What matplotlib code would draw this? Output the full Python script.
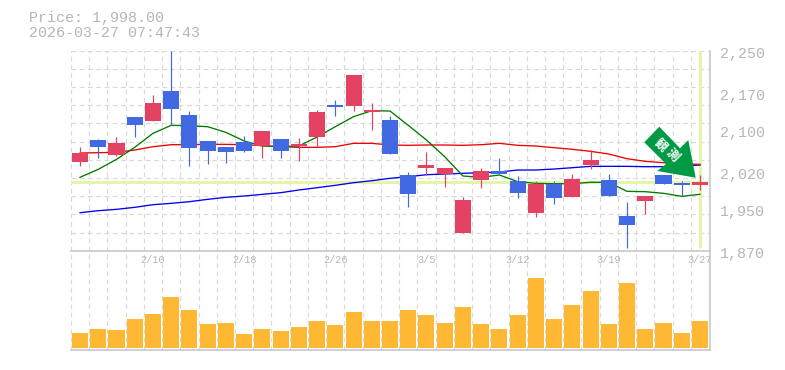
import matplotlib
matplotlib.use("Agg")
import matplotlib.pyplot as plt
from matplotlib.patches import Polygon

W, H = 785, 370

opens  = [2038.5,2080,2052,2124,2116,2173,2128,2078,2067,2076.5,2069,2082,2069,2086,2147,2145,2133.5,2118,2014,2027,2016,1904,2004,2021,2002.4,1942,1997,1972,2033,2004,1936,1964,2014,1998.6,1995]
closes = [2055.6,2067,2075,2109,2151,2139,2065,2059,2057.5,2059.4,2097,2059.4,2072.7,2133.5,2143,2204,2137.3,2054,1978,2033,2027,1966,2021,2016,1979.6,1997,1970,2006,2042,1974,1919,1974,1997,1994.8,2000.5]
highs  = [2067,2082,2086,2124,2166,2250,2135.4,2078,2067,2088,2097,2082,2084,2137,2156,2204,2150.6,2126,2019.5,2057.5,2027,1972,2027,2046,2012,2002.4,2002.4,2015.7,2061,2015.7,1962.5,1974,2014,2002.4,2013.8]
lows   = [2031,2046,2050,2086,2116,2109,2031,2035,2036.6,2057.5,2046,2046,2040.4,2067,2126,2135.4,2099,2054,1953,2013.8,1991,1904,1989,2016,1970,1934,1958.7,1972,2025,1974,1875,1939.7,1997,1974,1985.3]

ma_green = [2009.4,2024.6,2043.6,2066.4,2093,2108.2,2107.5,2105.6,2094.9,2078.4,2068.9,2068.3,2068.9,2086,2105.6,2124.6,2136,2135.4,2108.2,2080.3,2048.6,2011.9,2009.4,2013.8,2001.2,1998,1997.3,1997.3,1999.9,1999.9,1982.8,1982.1,1979,1973.3,1977.1]
ma_red   = [2055.6,2056.2,2056.9,2061.3,2067.6,2071.4,2071.4,2072,2072,2071.4,2069.5,2067.6,2066.4,2066.4,2067.6,2074,2074,2070.8,2070.2,2070.8,2070.8,2070.2,2071.4,2074,2070.2,2068.9,2065.7,2062.6,2058.8,2053.7,2044.8,2039.8,2037.2,2034.7,2034.1]
ma_blue  = [1942.2,1946,1948.6,1952.4,1957.4,1960,1963.1,1967.6,1971.4,1973.9,1977.1,1980.2,1985.3,1989.7,1994.2,1999.2,2003,2007.5,2010.6,2014.4,2015.7,2017,2018.2,2019.5,2023.3,2023.3,2025.2,2027.7,2030.3,2030.3,2030.3,2029.6,2029.6,2030.9,2032.8]
volumes  = [44,56,53,86,101,152,113,71,74,41,56,50,62,80,68,107,80,80,113,98,74,122,71,56,98,212,86,128,170,71,194,56,74,44,80]

date_labels = {4:"2/10",9:"2/18",14:"2/26",19:"3/5",24:"3/12",29:"3/19",34:"3/27"}
price_ticks = [2250,2170,2100,2020,1950,1870]
header = ["Price: 1,998.00","2026-03-27 07:47:43"]
arrow_chars = ["観","測"]

RED, BLUE, ORANGE = "#e34262", "#4169e1", "#ffb833"
GREY, GRID, HILITE = "#b6b6b6", "#d9d9d9", "#e4f5a8"
MONO = "Liberation Mono"

fig = plt.figure(figsize=(W/100, H/100), dpi=100, facecolor="white")
def box(l, t, r, b):
    return [l/W, 1-b/H, (r-l)/W, (b-t)/H]
ax = fig.add_axes(box(70.9, 50.7, 709.1, 250.7))
vx = fig.add_axes(box(70.9, 250.7, 709.1, 350))
n = len(opens)
xs = list(range(n))
for a in (ax, vx):
    a.set_xlim(-0.5, n-0.5)
    a.set_xticks([i-0.5 for i in range(n+1)])
    a.tick_params(length=0, labelbottom=False, labelleft=False)
    a.grid(True, axis="x", color=GRID, lw=0.85, ls=(0, (4, 3)))
    a.set_axisbelow(True)
    for s in a.spines.values():
        s.set_visible(False)
ax.set_ylim(1870, 2250)
ax.set_yticks([2250-i*380/11 for i in range(12)])
ax.grid(True, axis="y", color=GRID, lw=0.85, ls=(0, (4, 3)))
vx.set_ylim(-7, 293)
vx.set_yticks([])

ax.axhline(closes[-1], color=HILITE, lw=2.16, zorder=1.5)
ax.plot([xs[-1]]*2, [1876, 2250], color=HILITE, lw=2.16, zorder=1.5, solid_capstyle="butt")
ax.plot(xs, ma_blue, color="#0000ee", lw=0.95, zorder=2)
ax.plot(xs, ma_red, color="#ee0000", lw=0.95, zorder=2.1)
ax.plot(xs, ma_green, color="#007a00", lw=0.95, zorder=2.2)
for i in xs:
    c = RED if closes[i] >= opens[i] else BLUE
    ax.plot([i, i], [lows[i], highs[i]], color=c, lw=0.85, zorder=3, solid_capstyle="butt")
    ax.bar(i, abs(closes[i]-opens[i]), bottom=min(opens[i], closes[i]), width=0.88, color=c, zorder=3.2)
vx.bar(xs, volumes, width=0.88, color=ORANGE, zorder=3)

for i, lab in date_labels.items():
    vx.text(i, 0.905, lab, transform=vx.get_xaxis_transform(), ha="center", va="center",
            family=MONO, fontsize=7.4, color=GREY, clip_on=False)
for p in price_ticks:
    fig.text(720/W, 1-(50.7+(2250-p)/1.9+3)/H, f"{p:,}", ha="left", va="center",
             family=MONO, fontsize=10.8, color=GREY)
fig.text(29/W, 1-18/H, header[0], family=MONO, fontsize=10.8, color=GREY, va="center")
fig.text(29/W, 1-33/H, header[1], family=MONO, fontsize=10.8, color=GREY, va="center")

def px(x, y):
    return (x/W, 1-y/H)
for (x0, y0, x1, y1) in [(70.9,251,709.5,251),(70.9,350,709.5,350),(709.5,50.7,709.5,350)]:
    fig.add_artist(plt.Line2D([x0/W, x1/W], [1-y0/H, 1-y1/H], color="#c4c4c4", lw=1.1, zorder=6))
arrow = [(659.3,126.7),(680,148.3),(688.3,140),(695.7,177.7),(657.3,171),(666,164),(644.3,142.3)]
fig.add_artist(Polygon([px(*p) for p in arrow], closed=True, transform=fig.transFigure,
                       facecolor="#009a44", edgecolor="none", zorder=8))
for ch, (tx, ty) in zip(arrow_chars, [(660.7,145),(672.7,155.5)]):
    fig.text(tx/W, 1-ty/H, ch, rotation=-45, rotation_mode="anchor", ha="center", va="center",
             family="Noto Sans CJK JP", weight="bold", fontsize=9, color="white", zorder=9)
fig.savefig("out.png", dpi=100)
